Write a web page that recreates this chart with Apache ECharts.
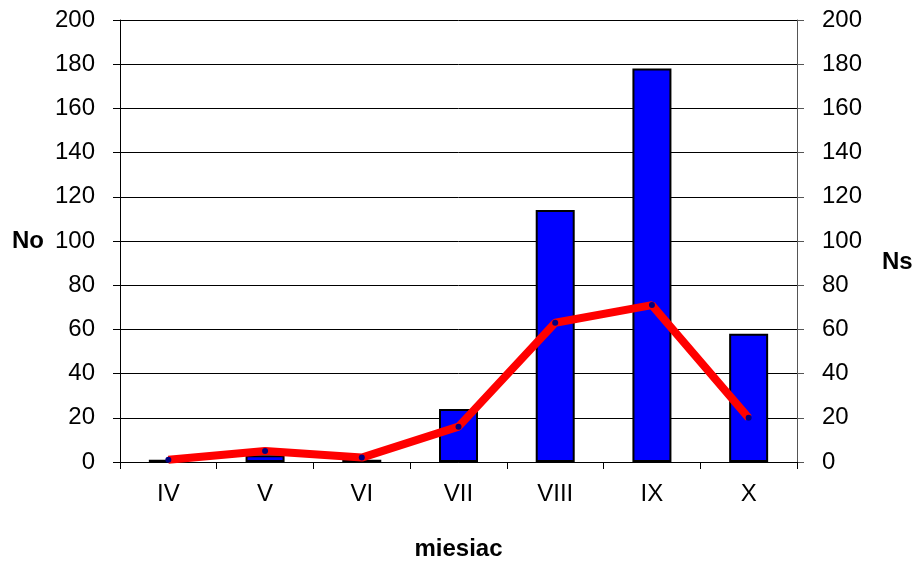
<!DOCTYPE html>
<html>
<head>
<meta charset="utf-8">
<script src="https://cdn.jsdelivr.net/npm/echarts@6/dist/echarts.min.js"></script>
<style>
  html, body { margin: 0; padding: 0; background: #fff; }
  #main { width: 918px; height: 562px; }
</style>
</head>
<body>
<div id="main"></div>
<script>
// miesiace
var months = ['IV', 'V', 'VI', 'VII', 'VIII', 'IX', 'X'];
// No - slupki (lewa os)
var noValues = [1, 3, 1, 24, 114, 178, 58];
// Ns - linia (prawa os)
var nsValues = [1, 5, 2, 16, 63, 71, 20];

var chart = echarts.init(document.getElementById('main'));
var font = 'Liberation Sans, Arial, sans-serif';

var option = {
  backgroundColor: '#fff',
  animation: false,
  grid: { left: 120, right: 121, top: 20, bottom: 100, outerBoundsMode: 'none', containLabel: false },
  xAxis: {
    type: 'category',
    data: months,
    boundaryGap: true,
    name: 'miesiac',
    nameLocation: 'middle',
    nameGap: 87,
    nameTextStyle: { fontFamily: font, fontSize: 24, fontWeight: 'bold', color: '#000', align: 'center', verticalAlign: 'middle' },
    axisLine: { lineStyle: { color: '#000', width: 1 } },
    axisTick: { show: true, length: 7, lineStyle: { color: '#000' } },
    axisLabel: { fontFamily: font, fontSize: 24, color: '#000', margin: 20 }
  },
  yAxis: [
    {
      type: 'value',
      min: 0,
      max: 200,
      interval: 20,
      name: 'No',
      nameLocation: 'middle',
      nameGap: 92,
      nameRotate: 0,
      nameTextStyle: { fontFamily: font, fontSize: 24, fontWeight: 'bold', color: '#000', align: 'center', verticalAlign: 'middle' },
      axisLine: { show: true, lineStyle: { color: '#000', width: 1 } },
      axisTick: { show: true, length: 7, lineStyle: { color: '#000' } },
      axisLabel: { fontFamily: font, fontSize: 24, color: '#000', margin: 25 },
      splitLine: { show: true, lineStyle: { color: '#000', width: 1 } }
    },
    {
      type: 'value',
      min: 0,
      max: 200,
      interval: 20,
      position: 'right',
      axisLine: { show: true, lineStyle: { color: '#555', width: 1 } },
      axisTick: { show: true, length: 7, lineStyle: { color: '#555' } },
      axisLabel: { fontFamily: font, fontSize: 24, color: '#000', margin: 25 },
      splitLine: { show: false }
    }
  ],
  graphic: [
    {
      type: 'text',
      left: 882,
      top: 250,
      style: { text: 'Ns', font: 'bold 24px ' + font, fill: '#000' }
    }
  ],
  series: [
    {
      name: 'No',
      type: 'bar',
      yAxisIndex: 0,
      data: noValues,
      barWidth: 39,
      itemStyle: { color: '#0000ff', borderColor: '#000', borderWidth: 2 }
    },
    {
      name: 'Ns',
      type: 'line',
      yAxisIndex: 1,
      data: nsValues,
      symbol: 'circle',
      symbolSize: 6,
      lineStyle: { color: '#ff0000', width: 8 },
      itemStyle: { color: '#000080', borderColor: '#000080', borderWidth: 0 }
    }
  ]
};
chart.setOption(option);
</script>
</body>
</html>
